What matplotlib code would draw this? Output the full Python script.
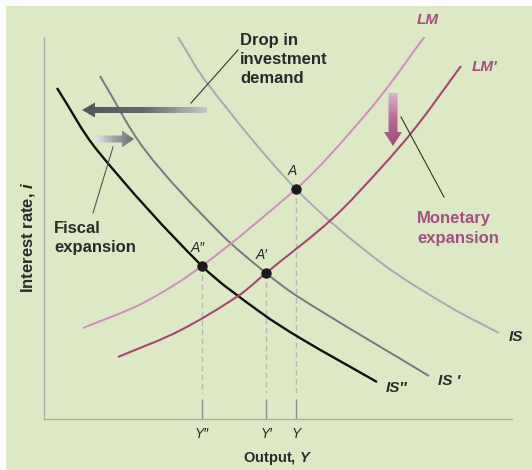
import numpy as np
import matplotlib
matplotlib.use("Agg")
import matplotlib.pyplot as plt
from matplotlib.patches import Polygon, Rectangle, PathPatch
from matplotlib.path import Path
from matplotlib.colors import LinearSegmentedColormap

plt.rcParams['font.family'] = ['Liberation Sans', 'DejaVu Sans']
plt.rcParams['mathtext.fontset'] = 'custom'
plt.rcParams['mathtext.rm'] = 'Liberation Sans'
plt.rcParams['mathtext.it'] = 'Liberation Sans:italic'
plt.rcParams['mathtext.bf'] = 'Liberation Sans:bold'
plt.rcParams['mathtext.bfit'] = 'Liberation Sans:bold:italic'

# curves (output on x, interest rate on y)
is_x = [134, 163, 252, 336, 406, 455]
is_y = [382, 336, 230, 157, 112, 86]
is1_x = [56, 101, 176, 222, 256, 385]
is1_y = [343, 269, 186, 146, 121, 43]
is2_x = [13, 53, 158, 216, 256, 333]
is2_y = [331, 269, 153, 107, 81, 37]
lm_x = [39, 99, 158, 252, 286, 336, 381]
lm_y = [91, 116, 153, 230, 264, 322, 383]
lm1_x = [74, 135, 194, 222, 288, 336, 372, 417]
lm1_y = [62, 88, 123, 146, 200, 250, 292, 353]

# equilibria
eq_x = [252, 222, 158]
eq_y = [230, 146, 153]
eq_labels = ['A', 'A′', 'A″']
tick_labels = ['Y', 'Y′', 'Y″']

BG = '#dde9c5'
DARK = '#2a2a2a'
MAG = '#a44f80'

fig = plt.figure(figsize=(5.32, 4.70), dpi=100, facecolor='white')
fig.add_artist(Rectangle((6 / 532, 0), 1, 1 - 6 / 470, transform=fig.transFigure,
                         facecolor=BG, edgecolor='none', zorder=-10))
ax = fig.add_axes([44 / 532, 51 / 470, 468 / 532, 382 / 470])
ax.set_facecolor('none')
ax.set_xlim(0, 468)
ax.set_ylim(0, 382)
for s in ['top', 'right']:
    ax.spines[s].set_visible(False)
for s in ['left', 'bottom']:
    ax.spines[s].set_color('#a9ada9')
    ax.spines[s].set_linewidth(1.0)
ax.set_yticks([])
ax.set_xticks(eq_x, tick_labels, fontstyle='italic', fontsize=10, color=DARK)
ax.tick_params(axis='x', direction='in', length=14.4, width=1.0, color='#8a8c8a', pad=6)

ax.set_xlabel('Output, $\\mathbfit{Y}$', fontsize=10.5, fontweight='bold', color=DARK)
ax.xaxis.set_label_coords(0.498, -0.08)
ax.set_ylabel('Interest rate, $\\mathbfit{i}$', fontsize=12, fontweight='bold',
              color=DARK, va='center')
ax.yaxis.set_label_coords(-0.034, 0.476)


def smooth_curve(xs, ys, color, lw):
    # smooth cubic Bezier through the read points; tangent lengths follow the
    # segment lengths so uneven spacing does not bend the curve
    p = np.column_stack([xs, ys]).astype(float)
    n = len(p)
    tang = np.zeros_like(p)
    for i in range(n):
        d = p[min(i + 1, n - 1)] - p[max(i - 1, 0)]
        tang[i] = d / np.hypot(*d)
    verts = [p[0]]
    codes = [Path.MOVETO]
    for i in range(n - 1):
        L = np.hypot(*(p[i + 1] - p[i])) / 3
        verts += [p[i] + tang[i] * L, p[i + 1] - tang[i + 1] * L, p[i + 1]]
        codes += [Path.CURVE4] * 3
    ax.add_patch(PathPatch(Path(verts, codes), facecolor='none', edgecolor=color,
                           lw=lw, capstyle='butt', zorder=2))


smooth_curve(is_x, is_y, '#a8a9b1', 1.4)
smooth_curve(is1_x, is1_y, '#78787f', 1.4)
smooth_curve(is2_x, is2_y, '#111111', 1.7)
smooth_curve(lm_x, lm_y, '#cf8dba', 1.4)
smooth_curve(lm1_x, lm1_y, '#a8466f', 1.5)

# dashed drop lines to the axis
for x, y in zip(eq_x, eq_y):
    ax.plot([x, x], [y, 26], color='#b5b9b5', lw=1.0, dashes=(4, 2.5), zorder=1)
ax.scatter(eq_x, eq_y, s=42, color='#1a1a1a', zorder=5)
for x, y, t in zip(eq_x, eq_y, eq_labels):
    ax.text(x - 4, y + 18, t, fontsize=10, fontstyle='italic', color=DARK,
            ha='center', va='center')

# curve labels
ax.text(384, 399, 'LM', fontsize=11, fontweight='bold', fontstyle='italic', color=MAG,
        ha='center', va='center')
ax.text(441, 352, 'LM′', fontsize=11, fontweight='bold', fontstyle='italic', color=MAG,
        ha='center', va='center')
ax.text(472, 82, 'IS', fontsize=11, fontweight='bold', fontstyle='italic', color=DARK,
        ha='center', va='center')
ax.text(405, 38, 'IS ′', fontsize=11, fontweight='bold', fontstyle='italic', color=DARK,
        ha='center', va='center')
ax.text(353, 31, 'IS″', fontsize=11, fontweight='bold', fontstyle='italic', color=DARK,
        ha='center', va='center')


def grad_arrow(verts, colors, vertical=False):
    poly = Polygon(verts, closed=True, facecolor='none', edgecolor='none')
    ax.add_patch(poly)
    xs, ys = zip(*verts)
    cmap = LinearSegmentedColormap.from_list('g', colors)
    g = np.linspace(0, 1, 256)
    g = g.reshape(-1, 1) if vertical else g.reshape(1, -1)
    im = ax.imshow(g, cmap=cmap, extent=(min(xs), max(xs), min(ys), max(ys)),
                   origin='lower', aspect='auto', interpolation='bilinear', zorder=3)
    im.set_clip_path(poly)


# drop in investment demand (pointing left)
y0 = 309
grad_arrow([(38, y0), (51, y0 + 7.5), (51, y0 + 3), (163, y0 + 3), (163, y0 - 3),
            (51, y0 - 3), (51, y0 - 7.5)], ['#55555b', '#66666c', '#c6c8ca'])
# fiscal expansion (pointing right)
y1 = 280
grad_arrow([(90, y1), (78, y1 + 8.5), (78, y1 + 3.5), (51, y1 + 3.5), (51, y1 - 3.5),
            (78, y1 - 3.5), (78, y1 - 8.5)], ['#e6e6e6', '#a0a0a6', '#6e6e76'])
# monetary expansion (pointing down)
x2 = 349
grad_arrow([(x2, 273), (x2 - 9, 287), (x2 - 4.5, 287), (x2 - 4.5, 326), (x2 + 4.5, 326),
            (x2 + 4.5, 287), (x2 + 9, 287)], ['#9e4c79', '#b56a95', '#ddb3cd'], vertical=True)
ax.set_xlim(0, 468)
ax.set_ylim(0, 382)

# annotations with leader lines
ax.plot([147, 194], [316, 369], color='#333333', lw=0.8, zorder=4)
ax.text(196, 386, 'Drop in\ninvestment\ndemand', fontsize=12, fontweight='bold',
        color=DARK, ha='left', va='top', linespacing=1.35)
ax.plot([49, 69], [206, 272], color='#555555', lw=0.8, zorder=4)
ax.text(10, 198, 'Fiscal\nexpansion', fontsize=12, fontweight='bold',
        color=DARK, ha='left', va='top', linespacing=1.35)
ax.plot([357, 400], [302, 222], color='#333333', lw=0.8, zorder=4)
ax.text(373, 208, 'Monetary\nexpansion', fontsize=12, fontweight='bold',
        color=MAG, ha='left', va='top', linespacing=1.45)

fig.savefig('out.png', dpi=100, facecolor='white')
